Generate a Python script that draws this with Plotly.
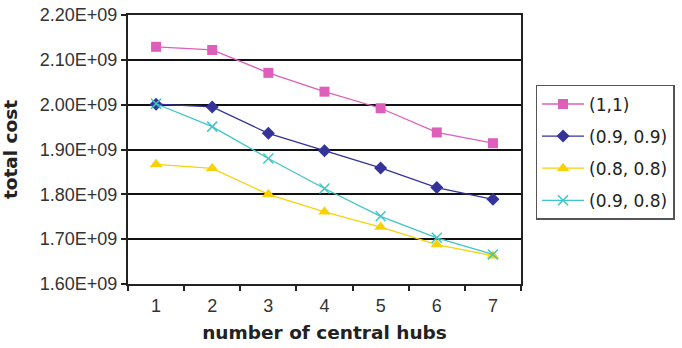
import plotly.graph_objects as go

hubs = [1, 2, 3, 4, 5, 6, 7]
s_11 = [2.129e9, 2.122e9, 2.071e9, 2.029e9, 1.992e9, 1.938e9, 1.914e9]
s_0909 = [2.001e9, 1.995e9, 1.936e9, 1.897e9, 1.859e9, 1.815e9, 1.789e9]
s_0808 = [1.867e9, 1.858e9, 1.800e9, 1.761e9, 1.727e9, 1.688e9, 1.663e9]
s_0908 = [2.002e9, 1.951e9, 1.880e9, 1.813e9, 1.751e9, 1.703e9, 1.666e9]
names = ["(1,1)", "(0.9, 0.9)", "(0.8, 0.8)", "(0.9, 0.8)"]
ytick_vals = [1.6e9, 1.7e9, 1.8e9, 1.9e9, 2.0e9, 2.1e9, 2.2e9]
ytick_text = ["1.60E+09", "1.70E+09", "1.80E+09", "1.90E+09", "2.00E+09", "2.10E+09", "2.20E+09"]

series = [s_11, s_0909, s_0808, s_0908]
colors = ["#DD5FB9", "#333399", "#F7D20A", "#3FC6C6"]
symbols = ["square", "diamond", "triangle-up", "x-thin"]
sizes = [10, 10, 11, 10]

fig = go.Figure()
for i, (vals, name) in enumerate(zip(series, names)):
    marker = dict(symbol=symbols[i], size=sizes[i], color=colors[i])
    if symbols[i] == "x-thin":
        marker["line"] = dict(color=colors[i], width=1.5)
    else:
        marker["line"] = dict(width=0)
    fig.add_trace(go.Scatter(
        x=hubs, y=vals, name=name, mode="lines+markers",
        line=dict(color=colors[i], width=1.3), marker=marker,
        legendgroup=name,
    ))

tick_font = "Liberation Sans, Arial, sans-serif"
title_font = "DejaVu Sans, sans-serif"
fig.update_layout(
    width=682, height=348,
    margin=dict(l=128, r=161, t=15, b=64, autoexpand=False),
    paper_bgcolor="white", plot_bgcolor="white",
    font=dict(family=tick_font, size=12, color="#333333"),
    showlegend=True,
    legend=dict(
        x=1.037, y=0.74, xanchor="left", yanchor="top",
        bordercolor="#555555", borderwidth=1.5,
        font=dict(family=title_font, size=17, color="#222222"),
        tracegroupgap=7,
        itemwidth=42,
    ),
    xaxis=dict(
        range=[0.5, 7.5], tickmode="array", tickvals=hubs, automargin=False,
        ticks="", showgrid=False, zeroline=False, ticklabelstandoff=4,
        showline=True, linecolor="#222222", linewidth=2, mirror=True,
        tickfont=dict(size=18, color="#333333"),
        minor=dict(tickmode="linear", tick0=0.5, dtick=1, ticks="outside",
                   ticklen=5, tickwidth=1.5, tickcolor="#222222", showgrid=False),
        title=dict(text="<b>number of central hubs</b>",
                   font=dict(family=title_font, size=18.5, color="#222222"), standoff=11),
    ),
    yaxis=dict(
        range=[1.6e9, 2.2e9], tickmode="array", tickvals=ytick_vals, ticktext=ytick_text,
        automargin=False,
        ticks="outside", ticklen=5, tickwidth=1.5, tickcolor="#222222",
        showgrid=True, gridcolor="#111111", gridwidth=1.5, zeroline=False,
        showline=True, linecolor="#222222", linewidth=2, mirror=True,
        tickfont=dict(size=18, color="#333333"),
        title=dict(text="<b>total cost</b>",
                   font=dict(family=title_font, size=18.5, color="#222222"), standoff=18),
    ),
)

fig.write_html("out.html")
